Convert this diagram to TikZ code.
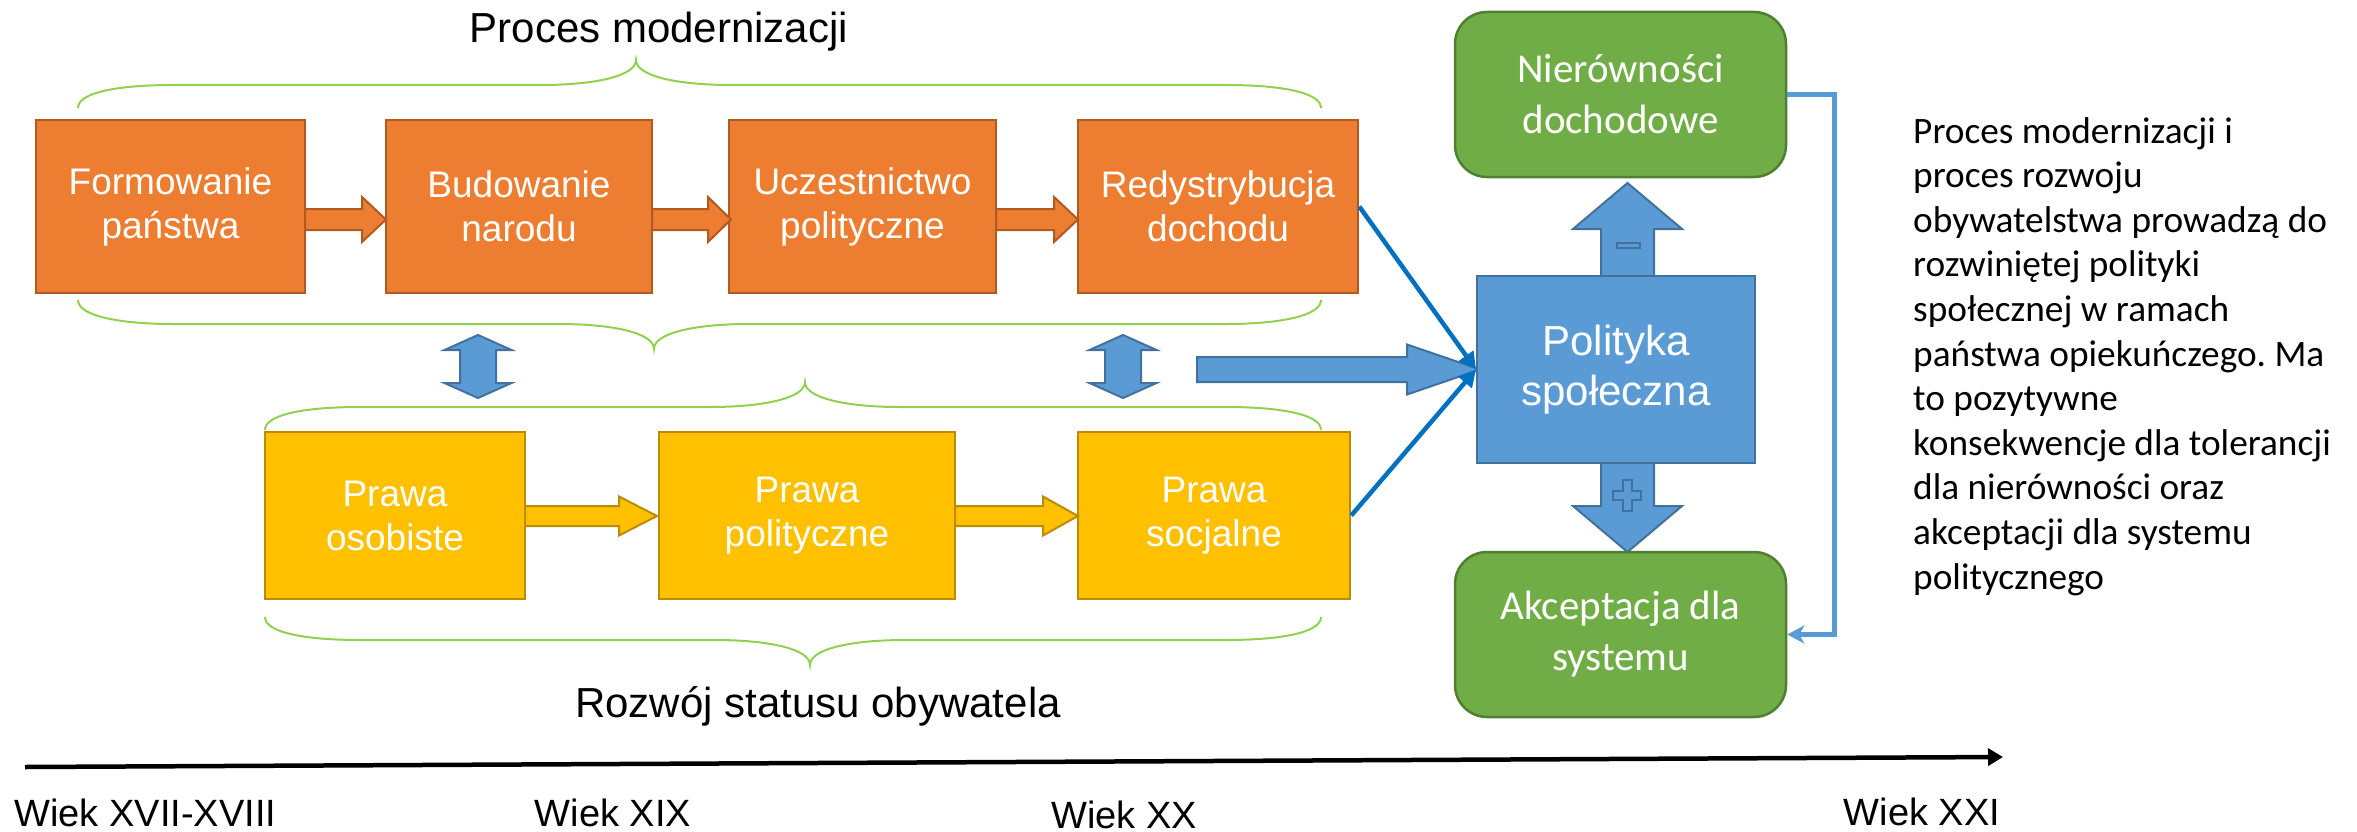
\documentclass[tikz,border=0pt]{standalone}
\usepackage{fontspec}
\setmainfont{Liberation Sans}
\newfontfamily\calib{Carlito}
\usetikzlibrary{arrows.meta}
\frenchspacing
\definecolor{orfill}{HTML}{ED7D31}
\definecolor{ordraw}{HTML}{AE5A21}
\definecolor{yefill}{HTML}{FFC000}
\definecolor{yedraw}{HTML}{BC8C00}
\definecolor{blfill}{HTML}{5B9BD5}
\definecolor{bldraw}{HTML}{41719C}
\definecolor{grfill}{HTML}{70AD47}
\definecolor{grdraw}{HTML}{507E32}
\definecolor{brcol}{HTML}{92D050}
\definecolor{dkblue}{HTML}{0070C0}
\newcommand\harr[7][]{\draw[#1] (#2,{#5-#6}) -- (#3,{#5-#6}) -- (#3,{#5-#7}) -- (#4,#5) -- (#3,{#5+#7}) -- (#3,{#5+#6}) -- (#2,{#5+#6}) -- cycle;}
\newcommand\vdarr[3]{\draw[blarrow] (#1,#2) -- ({#1+33.5},{#2+15}) -- ({#1+18},{#2+15}) -- ({#1+18},{#3-15}) -- ({#1+33.5},{#3-15}) -- (#1,#3) -- ({#1-33.5},{#3-15}) -- ({#1-18},{#3-15}) -- ({#1-18},{#2+15}) -- ({#1-33.5},{#2+15}) -- cycle;}
\begin{document}
\begin{tikzpicture}[x=1pt,y=-1pt,
  boxbase/.style={line width=2.5pt, text=white, align=center, inner sep=0pt},
  obox/.style={boxbase, draw=ordraw, fill=orfill, font=\fontsize{37}{44}\selectfont, minimum height=173pt},
  ybox/.style={boxbase, draw=yedraw, fill=yefill, font=\fontsize{37}{44}\selectfont, minimum height=167pt},
  pbox/.style={boxbase, draw=bldraw, fill=blfill, line width=2pt, font=\fontsize{42}{50}\selectfont, minimum width=278pt, minimum height=187pt},
  gbox/.style={boxbase, draw=grdraw, fill=grfill, rounded corners=32pt, font=\calib\fontsize{41}{51}\selectfont, minimum width=331pt, minimum height=165pt},
  oarrow/.style={draw=ordraw, fill=orfill, line width=2pt},
  yarrow/.style={draw=yedraw, fill=yefill, line width=2pt},
  blarrow/.style={draw=bldraw, fill=blfill, line width=2pt},
  brace/.style={draw=brcol, line width=2pt},
  thinarr/.style={draw=dkblue, line width=4.5pt, -{Triangle[length=17pt,width=17pt]}},
  fbarr/.style={draw=blfill, line width=4.5pt, -{Stealth[length=17pt,width=18pt,inset=5pt]}},
  timeline/.style={draw=black, line width=4.5pt, -{Triangle[length=15pt,width=17pt]}},
  heading/.style={font=\fontsize{42}{50}\selectfont, anchor=base},
  wiek/.style={font=\fontsize{38}{46}\selectfont, anchor=base},
  para/.style={font=\calib\fontsize{37.3}{44.6}\selectfont, align=left, anchor=base west, inner sep=0pt}
]
\useasboundingbox (0,0) rectangle (2357,832);

% headings
\node[heading] (t1) at (659,43) {Proces modernizacji};
\node[heading] (t2) at (818,717) {Rozwój statusu obywatela};

% braces
\draw[brace] (78,108) .. controls (78,92) and (120,85) .. (173,85) -- (541,85) .. controls (595,85) and (636,76) .. (636,60) .. controls (636,76) and (677,85) .. (731,85) -- (1226,85) .. controls (1279,85) and (1321,92) .. (1321,108);
\draw[brace] (78,300) .. controls (78,316) and (120,324) .. (173,324) -- (559,324) .. controls (613,324) and (654,333) .. (654,349) .. controls (654,333) and (695,324) .. (749,324) -- (1226,324) .. controls (1279,324) and (1321,316) .. (1321,300);
\draw[brace] (265,430) .. controls (265,414) and (307,407) .. (360,407) -- (710,407) .. controls (764,407) and (805,398) .. (805,382) .. controls (805,398) and (846,407) .. (900,407) -- (1226,407) .. controls (1279,407) and (1321,414) .. (1321,430);
\draw[brace] (265,617) .. controls (265,633) and (307,640) .. (360,640) -- (715,640) .. controls (769,640) and (810,649) .. (810,665) .. controls (810,649) and (851,640) .. (905,640) -- (1226,640) .. controls (1279,640) and (1321,633) .. (1321,617);

% orange boxes
\node[obox, minimum width=269pt] (f1) at (170.5,206.5) {\raisebox{-3pt}{\parbox{260pt}{\centering Formowanie\\państwa}}};
\node[obox, minimum width=266pt] (f2) at (519,206.5) {\raisebox{-3pt}{\parbox{260pt}{\centering Budowanie\\narodu}}};
\node[obox, minimum width=267pt] (f3) at (862.5,206.5) {\raisebox{-3pt}{\parbox{260pt}{\centering Uczestnictwo\\polityczne}}};
\node[obox, minimum width=280pt] (f4) at (1218,206.5) {\raisebox{-3pt}{\parbox{270pt}{\centering Redystrybucja\\dochodu}}};
\harr[oarrow]{305}{362}{386}{219.5}{10.5}{22.5}
\harr[oarrow]{652}{708}{731}{219.5}{10.5}{22.5}
\harr[oarrow]{996}{1054}{1078}{219.5}{10.5}{22.5}

% yellow boxes
\node[ybox, minimum width=260pt] (y1) at (395,515.5) {Prawa\\osobiste};
\node[ybox, minimum width=296pt] (y2) at (807,515.5) {Prawa\\polityczne};
\node[ybox, minimum width=272pt] (y3) at (1214,515.5) {Prawa\\socjalne};
\harr[yarrow]{525}{619}{657}{516}{10}{19.5}
\harr[yarrow]{955}{1043}{1078}{516}{10}{19.5}

% double arrows
\vdarr{478}{335}{398}
\vdarr{1123}{335}{398}

% big arrow to policy
\harr[blarrow]{1197}{1407}{1480}{369.5}{12.5}{25}

% up / down arrows
\draw[blarrow] (1601,277) -- (1601,229) -- (1573,229) -- (1627.5,183) -- (1682,229) -- (1654,229) -- (1654,277) -- cycle;
\draw[blarrow] (1601,461) -- (1601,506) -- (1573,506) -- (1627.5,552) -- (1682,506) -- (1654,506) -- (1654,461) -- cycle;
\draw[blarrow] (1617,243) rectangle (1640,248);
\draw[blarrow] (1613,490.5) -- (1622.5,490.5) -- (1622.5,480) -- (1631.5,480) -- (1631.5,490.5) -- (1641,490.5) -- (1641,499.5) -- (1631.5,499.5) -- (1631.5,511) -- (1622.5,511) -- (1622.5,499.5) -- (1613,499.5) -- cycle;

% policy and green boxes
\node[pbox] (pol) at (1616,369.5) {\raisebox{-5pt}{\parbox{270pt}{\centering Polityka\\społeczna}}};
\node[gbox] (g1) at (1620.5,94.5) {Nierówności\\dochodowe};
\node[gbox] (g2) at (1620.5,634.5) {Akceptacja dla\\systemu};

% thin connectors
\draw[thinarr] (f4.east) -- (pol.west);
\draw[thinarr] (y3.east) -- (pol.west);
\draw[fbarr] (g1.east) -- ++(47,0) |- (g2.east);

% paragraph
\node[para] (txt) at (1913,589) {Proces modernizacji i\\proces rozwoju\\obywatelstwa prowadzą do\\rozwiniętej polityki\\społecznej w ramach\\państwa opiekuńczego. Ma\\to pozytywne\\konsekwencje dla tolerancji\\dla nierówności oraz\\akceptacji dla systemu\\politycznego};

% timeline
\coordinate (ta) at (25,767);
\coordinate (tb) at (2003,757);
\draw[timeline] (ta) -- (tb);
\node[wiek, anchor=base west] (w1) at (11,826) {Wiek XVII-XVIII};
\node[wiek] (w2) at (613,826) {Wiek XIX};
\node[wiek] (w3) at (1124,828) {Wiek XX};
\node[wiek] (w4) at (1922,825) {Wiek XXI};
\end{tikzpicture}
\end{document}
